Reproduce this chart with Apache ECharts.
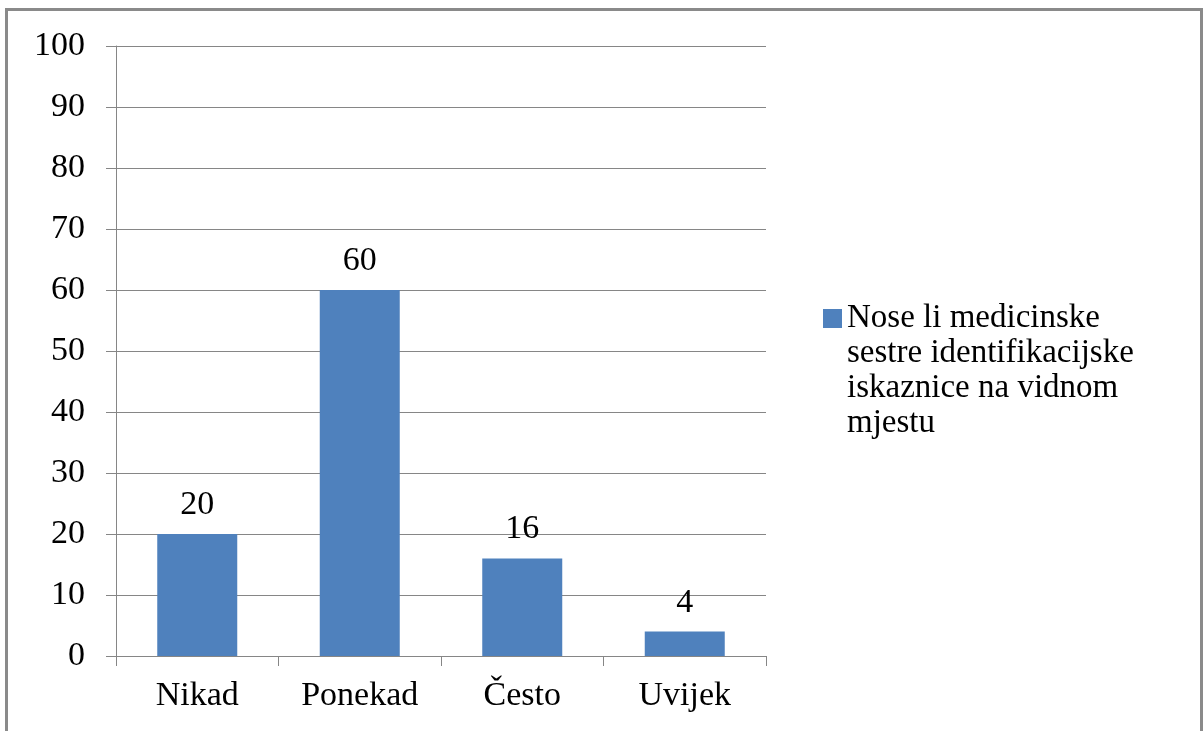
<!DOCTYPE html>
<html>
<head>
<meta charset="utf-8">
<script src="https://cdn.jsdelivr.net/npm/echarts@6/dist/echarts.min.js"></script>
<style>
html, body { margin: 0; padding: 0; background: #fff; }
#chart { width: 1203px; height: 731px; }
</style>
</head>
<body>
<div id="chart"></div>
<script>
// podaci s grafikona
var categories = ['Nikad', 'Ponekad', 'Često', 'Uvijek'];
var values = [20, 60, 16, 4];
var seriesName = 'Nose li medicinske\nsestre identifikacijske\niskaznice na vidnom\nmjestu';

var serif = '"Liberation Serif", "Times New Roman", serif';
var gray = '#868686';

var chart = echarts.init(document.getElementById('chart'));
var option = {
	animation: false,
	grid: {
		left: 116,
		right: 437,
		top: 46,
		bottom: 75
	},
	legend: {
		orient: 'vertical',
		left: 823,
		top: 196,
		padding: 0,
		itemWidth: 19,
		itemHeight: 19,
		itemGap: 0,
		icon: 'rect',
		selectedMode: false,
		// prazni redovi gore da prvi red stoji uz ikonu
		formatter: function (name) {
			return '\n\n\n' + name;
		},
		textStyle: {
			fontFamily: serif,
			fontSize: 33,
			lineHeight: 35,
			color: '#000'
		},
		data: [seriesName]
	},
	xAxis: {
		type: 'category',
		data: categories,
		axisLine: { lineStyle: { color: gray, width: 1 } },
		axisTick: { show: true, length: 10, lineStyle: { color: gray } },
		axisLabel: {
			margin: 23,
			color: '#000',
			fontFamily: serif,
			fontSize: 34
		}
	},
	yAxis: {
		type: 'value',
		min: 0,
		max: 100,
		interval: 10,
		axisLine: { show: true, lineStyle: { color: gray, width: 1 } },
		axisTick: { show: true, length: 10, lineStyle: { color: gray } },
		splitLine: { lineStyle: { color: gray, width: 1 } },
		axisLabel: {
			margin: 31,
			color: '#000',
			fontFamily: serif,
			fontSize: 34
		}
	},
	series: [{
		name: seriesName,
		type: 'bar',
		data: values,
		barWidth: 80,
		itemStyle: { color: '#4F81BD' },
		label: {
			show: true,
			position: 'top',
			distance: 12,
			color: '#000',
			fontFamily: serif,
			fontSize: 34
		}
	}],
	graphic: [{
		type: 'rect',
		shape: { x: 6.5, y: 9.5, width: 1195, height: 800 },
		style: { fill: 'none', stroke: '#8a8a8a', lineWidth: 3 },
		silent: true
	}]
};
chart.setOption(option);
</script>
</body>
</html>
